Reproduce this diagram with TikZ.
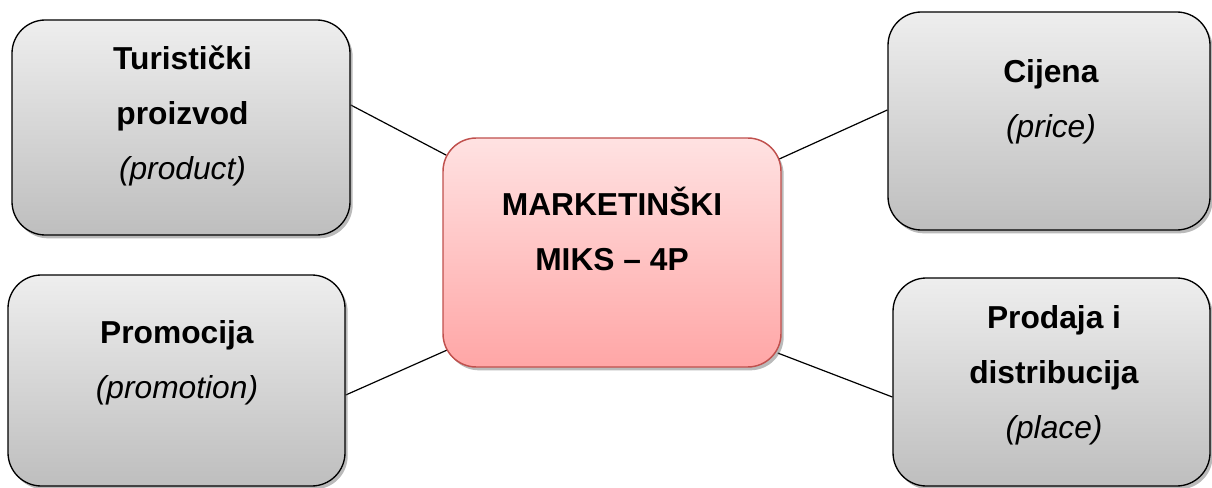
\documentclass[tikz,border=0pt]{standalone}
\usepackage{fontspec}
\setmainfont{Liberation Sans}
\usetikzlibrary{shadows,backgrounds}
\definecolor{grayTop}{HTML}{EEEEEE}
\definecolor{grayBot}{HTML}{BEBEBE}
\definecolor{pinkTop}{HTML}{FFE2E2}
\definecolor{pinkBot}{HTML}{FFA6A6}
\definecolor{redBorder}{HTML}{C0504D}
\tikzset{
  graybox/.style={rectangle, rounded corners=25pt, draw=black, line width=1pt,
    top color=grayTop, bottom color=grayBot, inner sep=0pt,
    drop shadow={shadow xshift=2pt, shadow yshift=-2.5pt, opacity=0.45, fill=black!60}},
  centerbox/.style={rectangle, rounded corners=25pt, draw=redBorder, line width=1.1pt,
    top color=pinkTop, bottom color=pinkBot, inner sep=0pt,
    drop shadow={shadow xshift=2pt, shadow yshift=-2.5pt, opacity=0.45, fill=black!60}},
  label/.style={anchor=base, align=center, inner sep=0pt,
    font=\fontsize{23.8pt}{41.25pt}\selectfont},
  link/.style={draw=black, line width=0.9pt}
}
\begin{document}
\begin{tikzpicture}[x=0.75pt,y=-0.75pt]
\useasboundingbox (0,0) rectangle (1212,488);
\node[graybox, minimum width=253.5pt, minimum height=161.25pt] (tl) at (181,127.5) {};
\node[centerbox, minimum width=253.5pt, minimum height=171.75pt] (c) at (612,252.5) {};
\node[graybox, minimum width=241.5pt, minimum height=163.5pt] (tr) at (1049,121) {};
\node[graybox, minimum width=252.75pt, minimum height=158.25pt] (bl) at (176.5,380.5) {};
\node[graybox, minimum width=237.75pt, minimum height=156pt] (br) at (1051.5,382) {};

\node[label] (tltext) at (182.5,180) {\textbf{Turistički}\\\textbf{proizvod}\\\textit{(product)}};
\node[label] (ctext) at (612,270) {\textbf{MARKETINŠKI}\\\textbf{MIKS – 4P}};
\node[label] (trtext) at (1051,138) {\textbf{Cijena}\\\textit{(price)}};
\node[label] (bltext) at (177,398) {\textbf{Promocija}\\\textit{(promotion)}};
\node[label] (brtext) at (1054,438) {\textbf{Prodaja i}\\\textbf{distribucija}\\\textit{(place)}};

\begin{scope}[on background layer]
\draw[link] ([yshift=16.9pt]tl.east) -- ([xshift=3pt,yshift=73pt]c.west);
\draw[link] ([xshift=-6.75pt,yshift=67.9pt]c.east) -- ([yshift=8.25pt]tr.west);
\draw[link] ([yshift=-10.9pt]bl.east) -- ([xshift=3.75pt,yshift=-73.1pt]c.west);
\draw[link] ([xshift=-3pt,yshift=-75.4pt]c.east) -- ([yshift=-11.25pt]br.west);
\end{scope}
\end{tikzpicture}
\end{document}
